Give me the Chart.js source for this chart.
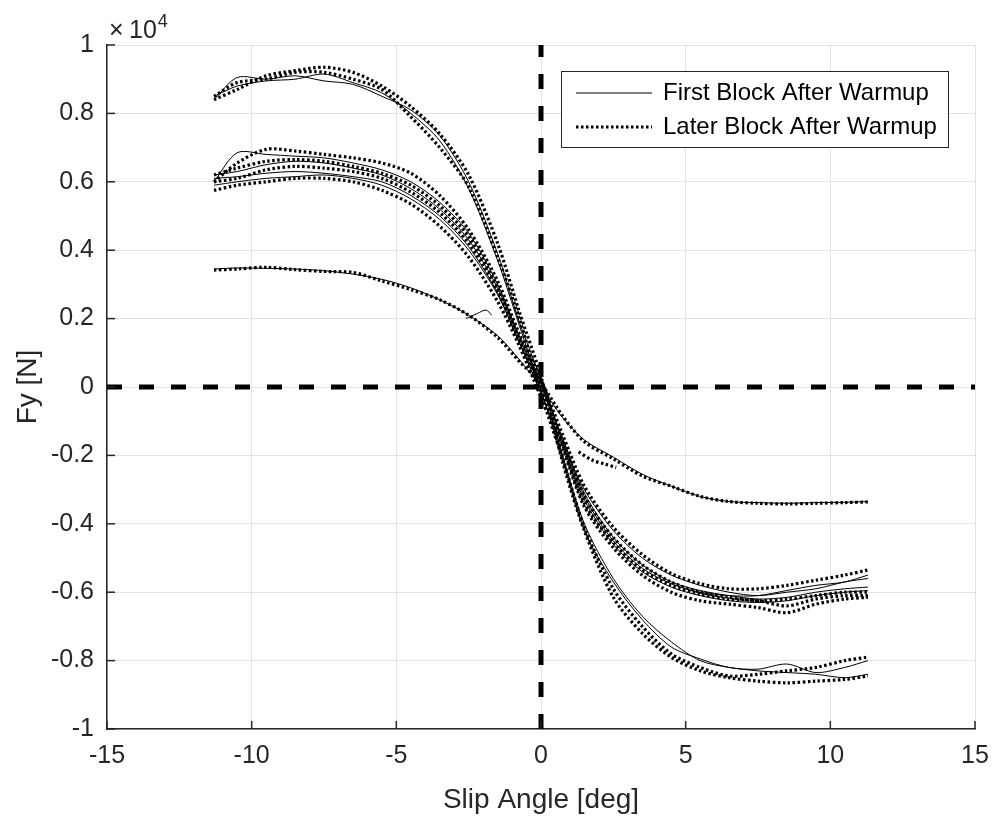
<!DOCTYPE html>
<html>
<head>
<meta charset="utf-8">
<script src="https://cdn.jsdelivr.net/npm/chart.js@4.4.1/dist/chart.umd.min.js"></script>
<style>
  html, body { margin: 0; padding: 0; background: #fff; }
</style>
</head>
<body>
<canvas id="fyChart" width="992" height="821"></canvas>
<script>
// slip angle sweep points [deg], shared by every curve
const slipAngle = [-11.3, -10.5, -9.5, -8.5, -7.5, -6.5, -5.5, -4.5, -3.5, -2.5, -1.5, -0.75, 0,
                   0.75, 1.5, 2.5, 3.5, 4.5, 5.5, 6.5, 7.5, 8.5, 9.5, 10.5, 11.3];

// Fy [N] - first block after warmup (solid)
const firstHigh1 = [8400, 9050, 9000, 9100, 8950, 8850, 8500, 8100, 7350, 6000, 3900, 1900, 200, -2000, -4000, -5600, -6700, -7450, -8000, -8200, -8300, -8350, -8400, -8500, -8400];
const firstHigh2 = [8500, 8800, 8950, 9000, 9150, 8900, 8600, 8000, 7200, 5800, 3700, 1800, -100, -2100, -4200, -5700, -6800, -7600, -7950, -8200, -8250, -8100, -8350, -8200, -8000];
const firstMid1 = [6000, 6850, 6800, 6750, 6700, 6550, 6350, 6000, 5400, 4500, 3000, 1500, 300, -1600, -3000, -4200, -5000, -5500, -5800, -6000, -6100, -6000, -5900, -5700, -5600];
const firstMid2 = [6200, 6300, 6500, 6600, 6550, 6400, 6200, 5800, 5200, 4300, 2900, 1400, 100, -1500, -3100, -4400, -5200, -5700, -5950, -6100, -6200, -6150, -6000, -5900, -5850];
const firstMid3 = [5900, 6000, 6100, 6150, 6200, 6100, 5900, 5500, 4900, 4000, 2700, 1300, -200, -1700, -3300, -4600, -5400, -5850, -6100, -6250, -6300, -6250, -6100, -6000, -5950];
const firstMid4 = [6100, 6150, 6250, 6300, 6250, 6150, 6000, 5600, 5000, 4100, 2750, 1300, 0, -1600, -3200, -4500, -5300, -5750, -6000, -6100, -6100, -5950, -5800, -5700, -5500];
const firstLow = [3450, 3480, 3470, 3450, 3400, 3300, 3150, 2900, 2550, 2100, 1500, 800, 0, -900, -1550, -2050, -2550, -2900, -3200, -3350, -3380, -3400, -3380, -3370, -3350];

// Fy [N] - later block after warmup (dotted)
const laterHigh1 = [8400, 8700, 9100, 9250, 9350, 9200, 8800, 8200, 7400, 6200, 4200, 2200, 300, -2200, -4200, -6150, -7200, -7900, -8300, -8500, -8600, -8650, -8600, -8550, -8450];
const laterHigh2 = [8500, 8900, 9000, 9200, 9200, 9000, 8700, 7900, 7000, 5850, 3800, 2000, -200, -2100, -4100, -5900, -7000, -7800, -8200, -8450, -8400, -8300, -8200, -8000, -7900];
const laterMid1 = [6000, 6550, 6950, 6900, 6800, 6700, 6550, 6250, 5600, 4600, 3100, 1550, 200, -1400, -2900, -4100, -4900, -5450, -5750, -5900, -5900, -5800, -5650, -5500, -5350];
const laterMid2 = [6200, 6400, 6600, 6650, 6600, 6450, 6250, 5900, 5300, 4400, 2900, 1400, -100, -1600, -3200, -4400, -5200, -5700, -6000, -6150, -6250, -6200, -6100, -6000, -6000];
const laterMid3 = [5750, 5900, 6000, 6100, 6100, 6000, 5750, 5350, 4700, 3800, 2500, 1200, -300, -1800, -3500, -4700, -5500, -6000, -6250, -6350, -6450, -6600, -6350, -6200, -6150];
const laterMid4 = [6000, 6100, 6350, 6450, 6400, 6300, 6100, 5700, 5100, 4200, 2800, 1350, 100, -1700, -3400, -4550, -5350, -5800, -6050, -6200, -6250, -6400, -6200, -6100, -6100];
const laterLow = [3420, 3450, 3500, 3430, 3380, 3350, 3100, 2850, 2550, 2100, 1450, 750, 100, -850, -1600, -2100, -2600, -2900, -3200, -3350, -3400, -3420, -3400, -3380, -3360];

// short start-of-sweep pieces
const hookLeftX = [-2.6, -2.2, -1.9, -1.7];
const hookLeftY = [2000, 2150, 2250, 2100];
const hookRightX = [1.3, 1.8, 2.2, 2.6];
const hookRightY = [-1900, -2150, -2250, -2350];

const xLimits = [-15, 15];
const yLimits = [-10000, 10000];
const blockLabels = ['First Block After Warmup', 'Later Block After Warmup'];

const FONT = '"Liberation Sans", Arial, sans-serif';
const TXT = '#262626';
const solidStyle = { borderColor: '#000', borderWidth: 1, borderDash: [] };
const dottedStyle = { borderColor: '#000', borderWidth: 3.2, borderDash: [2.5, 2.5] };

function toPoints(xs, ys) {
    return xs.map((x, i) => ({ x: x, y: ys[i] }));
}

function curve(xs, ys, style) {
    return Object.assign({
        data: toPoints(xs, ys),
        showLine: true,
        pointRadius: 0,
        tension: 0.3,
        fill: false
    }, style);
}

const datasets = [
    // dashed zero lines (first = drawn on top)
    { data: [{ x: 0, y: yLimits[0] }, { x: 0, y: yLimits[1] }], showLine: true, pointRadius: 0,
      borderColor: '#000', borderWidth: 5, borderDash: [15, 17] },
    { data: [{ x: xLimits[0], y: 0 }, { x: xLimits[1], y: 0 }], showLine: true, pointRadius: 0,
      borderColor: '#000', borderWidth: 5, borderDash: [15, 17] }
];

[laterHigh1, laterHigh2, laterMid1, laterMid2, laterMid3, laterMid4, laterLow].forEach(ys => {
    datasets.push(curve(slipAngle, ys, dottedStyle));
});
[firstHigh1, firstHigh2, firstMid1, firstMid2, firstMid3, firstMid4, firstLow].forEach(ys => {
    datasets.push(curve(slipAngle, ys, solidStyle));
});
datasets.push(curve(hookLeftX, hookLeftY, solidStyle));
datasets.push(curve(hookRightX, hookRightY, dottedStyle));

// matlab look: inward ticks, x10^4 exponent, boxed legend
const matlabExtras = {
    id: 'matlabExtras',
    afterDraw(chart) {
        const ctx = chart.ctx;
        const area = chart.chartArea;
        const sx = chart.scales.x;
        const sy = chart.scales.y;
        ctx.save();
        ctx.strokeStyle = TXT;
        ctx.lineWidth = 1.5;
        sy.ticks.forEach(t => {
            const py = sy.getPixelForValue(t.value);
            ctx.beginPath();
            ctx.moveTo(area.left, py);
            ctx.lineTo(area.left + 8, py);
            ctx.stroke();
        });
        sx.ticks.forEach(t => {
            const px = sx.getPixelForValue(t.value);
            ctx.beginPath();
            ctx.moveTo(px, area.bottom);
            ctx.lineTo(px, area.bottom - 8);
            ctx.stroke();
        });

        // exponent label
        ctx.fillStyle = TXT;
        ctx.textBaseline = 'alphabetic';
        ctx.textAlign = 'left';
        ctx.font = '25px ' + FONT;
        ctx.fillText('\u00d7', area.left + 2, area.top - 7);
        ctx.fillText('10', area.left + 22, area.top - 7);
        const w = ctx.measureText('10').width;
        ctx.font = '18px ' + FONT;
        ctx.fillText('4', area.left + 23 + w, area.top - 18);

        // legend box
        const bx = area.right - 414, by = area.top + 26, bw = 387, bh = 76;
        ctx.fillStyle = '#fff';
        ctx.fillRect(bx, by, bw, bh);
        ctx.strokeStyle = TXT;
        ctx.lineWidth = 1;
        ctx.strokeRect(bx + 0.5, by + 0.5, bw, bh);
        const styles = [solidStyle, dottedStyle];
        blockLabels.forEach((lab, i) => {
            const cy = by + 22 + i * 34;
            ctx.strokeStyle = '#000';
            ctx.lineWidth = styles[i].borderWidth;
            ctx.setLineDash(styles[i].borderDash);
            ctx.beginPath();
            ctx.moveTo(bx + 15, cy);
            ctx.lineTo(bx + 91, cy);
            ctx.stroke();
            ctx.setLineDash([]);
            ctx.fillStyle = '#000';
            ctx.font = '24px ' + FONT;
            ctx.textBaseline = 'middle';
            ctx.fillText(lab, bx + 102, cy);
        });
        ctx.restore();
    }
};

new Chart(document.getElementById('fyChart'), {
    type: 'scatter',
    data: { datasets: datasets },
    options: {
        responsive: false,
        animation: false,
        layout: { padding: { left: 0, top: 45, right: 17, bottom: 0 } },
        plugins: { legend: { display: false }, tooltip: { enabled: false } },
        scales: {
            x: {
                type: 'linear',
                min: xLimits[0],
                max: xLimits[1],
                afterFit: s => { s.height = 92; s.paddingLeft = 0; s.paddingRight = 0; },
                ticks: { stepSize: 5, color: TXT, padding: 12, font: { family: FONT, size: 25 } },
                grid: { color: '#e3e3e3', drawTicks: false },
                border: { display: true, color: TXT, width: 1.5 },
                title: { display: true, text: 'Slip Angle [deg]', color: TXT,
                         font: { family: FONT, size: 28 }, padding: { top: 0, bottom: 4 } }
            },
            y: {
                type: 'linear',
                min: yLimits[0],
                max: yLimits[1],
                afterFit: s => { s.width = 107; s.paddingTop = 0; s.paddingBottom = 0; },
                ticks: { stepSize: 2000, color: TXT, padding: 13, font: { family: FONT, size: 25 },
                         callback: v => String(parseFloat((v / 10000).toFixed(1))) },
                grid: { color: '#e3e3e3', drawTicks: false },
                border: { display: true, color: TXT, width: 1.5 },
                title: { display: true, text: 'Fy [N]', color: TXT,
                         font: { family: FONT, size: 28 }, padding: { top: 11, bottom: 0 } }
            }
        }
    },
    plugins: [matlabExtras]
});
</script>
</body>
</html>
